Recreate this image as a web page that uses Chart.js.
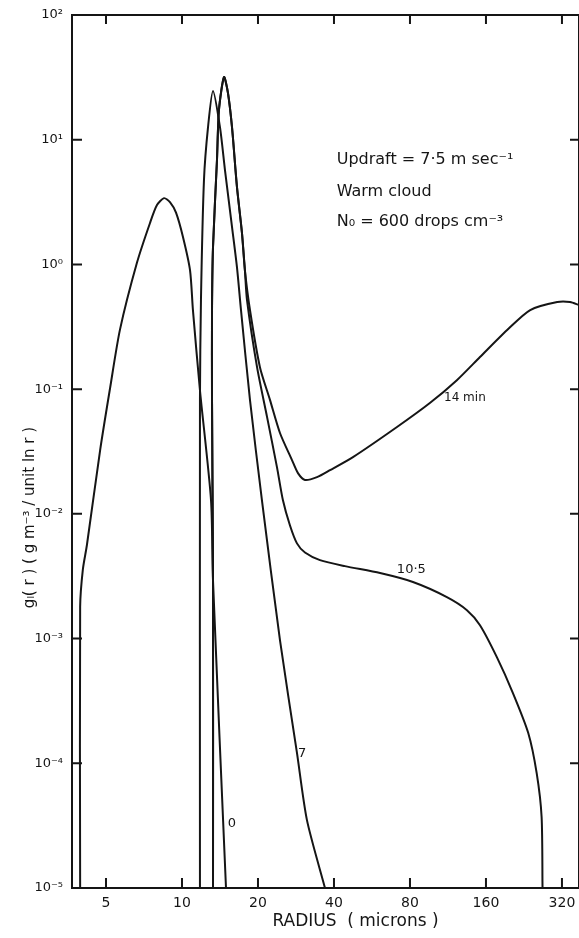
<!DOCTYPE html>
<html>
<head>
<meta charset="utf-8">
<script src="https://cdn.jsdelivr.net/npm/chart.js@4.4.1/dist/chart.umd.min.js"></script>
<style>
  html, body { margin: 0; padding: 0; background: #fff; }
  canvas { display: block; }
</style>
</head>
<body>
<canvas id="dropChart" width="579" height="938"></canvas>
<script>
// tick values on both axes
const xTicks = [5, 10, 20, 40, 80, 160, 320];
const yTicks = [1e-5, 1e-4, 1e-3, 1e-2, 1e-1, 1e0, 1e1, 1e2];
const supers = { '-': '⁻', '0': '⁰', '1': '¹', '2': '²', '3': '³', '4': '⁴', '5': '⁵' };

const curveLabels = ['0', '7', '10·5', '14 min'];

// t = 0
const radius0 = [3.95, 3.95, 4.05, 4.20, 4.74, 5.19, 5.68, 6.63, 7.47, 7.96, 8.49, 8.96, 9.47, 10.09, 10.76, 11.05, 11.78, 13.03, 13.27, 14.94];
const value0 = [1e-5, 1.8e-3, 3.6e-3, 5.6e-3, 0.0325, 0.102, 0.30, 1.03, 2.15, 2.99, 3.40, 3.16, 2.6, 1.66, 0.90, 0.43, 0.098, 0.0129, 2.9e-3, 1e-5];

// t = 7 min
const radius7 = [11.78, 11.78, 11.89, 12.22, 12.68, 13.27, 14.14, 14.80, 15.78, 16.51, 17.13, 18.59, 20.73, 24.44, 28.54, 31.26, 36.85];
const value7 = [1e-5, 0.082, 0.52, 4.75, 12.6, 24.6, 12.6, 5.71, 2.0, 0.95, 0.43, 0.082, 0.0129, 9.7e-4, 1.21e-4, 3.5e-5, 1e-5];

// t = 10.5 min
const radius105 = [13.27, 13.27, 13.15, 13.15, 13.27, 13.76, 14.01, 14.67, 15.21, 15.78, 16.51, 17.28, 17.75, 18.09, 19.83, 21.73, 23.78, 25.1, 26.76, 28.54, 30.70, 35.2, 44.2, 60.9, 82.2, 112, 134.5, 151.5, 176.7, 204.6, 235.3, 254.2, 265.8, 268];
const value105 = [1e-5, 2.9e-3, 0.082, 0.43, 1.38, 6.88, 17.3, 31.8, 23.7, 12.6, 4.18, 1.79, 0.90, 0.52, 0.150, 0.0597, 0.0237, 0.0129, 8.1e-3, 5.8e-3, 4.9e-3, 4.26e-3, 3.81e-3, 3.35e-3, 2.84e-3, 2.15e-3, 1.69e-3, 1.28e-3, 7.1e-4, 3.66e-4, 1.75e-4, 8.3e-5, 3.7e-5, 1e-5];

// t = 14 min
const radius14 = [13.27, 13.27, 13.15, 13.15, 13.27, 13.76, 14.01, 14.67, 15.21, 15.78, 16.51, 17.28, 17.75, 18.59, 20.36, 22.31, 24.44, 27.27, 28.80, 30.70, 34.26, 38.58, 47.57, 71.07, 95.9, 122.7, 151.5, 194.1, 239.5, 306.5, 344.5, 373.8];
const value14 = [1e-5, 2.9e-3, 0.082, 0.43, 1.38, 6.88, 17.3, 31.8, 23.7, 12.6, 4.18, 1.79, 0.90, 0.431, 0.150, 0.082, 0.0445, 0.027, 0.0212, 0.0187, 0.0197, 0.0224, 0.0285, 0.0497, 0.0774, 0.118, 0.181, 0.298, 0.431, 0.499, 0.499, 0.472];

const noteLines = ['Updraft = 7·5 m sec⁻¹', 'Warm cloud', 'N₀ = 600 drops cm⁻³'];

function toPoints(rs, vs) {
  return rs.map((r, i) => ({ x: r, y: vs[i] }));
}

function powerLabel(v) {
  const exp = String(Math.round(Math.log10(v)));
  return '10' + exp.split('').map(c => supers[c]).join('');
}

const ink = '#151515';
const fontFamily = "'DejaVu Sans', sans-serif";

const framePlugin = {
  id: 'frame',
  afterDatasetsDraw(chart) {
    const { ctx, chartArea: a, scales: { x, y } } = chart;
    ctx.save();
    ctx.strokeStyle = ink;
    ctx.lineWidth = 2;
    ctx.strokeRect(a.left, a.top, a.right - a.left, a.bottom - a.top);

    ctx.beginPath();
    xTicks.forEach(v => {
      const px = x.getPixelForValue(v);
      ctx.moveTo(px, a.bottom);
      ctx.lineTo(px, a.bottom - 10);
      ctx.moveTo(px, a.top);
      ctx.lineTo(px, a.top + 9);
    });
    yTicks.forEach(v => {
      const py = y.getPixelForValue(v);
      ctx.moveTo(a.left, py);
      ctx.lineTo(a.left + 10, py);
      ctx.moveTo(a.right, py);
      ctx.lineTo(a.right - 9, py);
    });
    ctx.stroke();

    ctx.fillStyle = ink;
    ctx.textBaseline = 'middle';

    // conditions note
    ctx.font = '16px ' + fontFamily;
    ctx.textAlign = 'left';
    const noteX = x.getPixelForValue(41);
    [6.9, 3.8, 2.19].forEach((v, i) => {
      ctx.fillText(noteLines[i], noteX, y.getPixelForValue(v));
    });

    // curve labels
    ctx.textAlign = 'center';
    ctx.font = '13px ' + fontFamily;
    ctx.fillText(curveLabels[0], x.getPixelForValue(15.78), y.getPixelForValue(3.3e-5));
    ctx.fillText(curveLabels[1], x.getPixelForValue(29.9), y.getPixelForValue(1.2e-4));
    ctx.fillText(curveLabels[2], x.getPixelForValue(81), y.getPixelForValue(3.55e-3));
    ctx.font = '12px ' + fontFamily;
    ctx.fillText(curveLabels[3], x.getPixelForValue(132), y.getPixelForValue(0.085));

    // axis titles
    ctx.font = '17px ' + fontFamily;
    ctx.fillText('RADIUS  ( microns )', (a.left + a.right) / 2 + 30, a.bottom + 34);
    ctx.translate(30, (a.top + a.bottom) / 2 + 66);
    ctx.rotate(-Math.PI / 2);
    ctx.font = '15px ' + fontFamily;
    ctx.fillText('gₗ( r ) ( g m⁻³ / unit ln r )', 0, 0);
    ctx.restore();
  }
};

document.addEventListener('DOMContentLoaded', function () {
  const ctx = document.getElementById('dropChart').getContext('2d');
  const lineStyle = {
    borderColor: ink,
    borderWidth: 2,
    pointRadius: 0,
    tension: 0.25,
    fill: false
  };

  new Chart(ctx, {
    type: 'line',
    data: {
      datasets: [
        { label: curveLabels[0], data: toPoints(radius0, value0), ...lineStyle },
        { label: curveLabels[1], data: toPoints(radius7, value7), ...lineStyle },
        { label: curveLabels[2], data: toPoints(radius105, value105), ...lineStyle },
        { label: curveLabels[3], data: toPoints(radius14, value14), ...lineStyle }
      ]
    },
    options: {
      responsive: false,
      animation: false,
      layout: { padding: { top: 15, right: 0, left: 0, bottom: 0 } },
      plugins: {
        legend: { display: false },
        tooltip: { enabled: false }
      },
      scales: {
        x: {
          type: 'logarithmic',
          min: 3.667,
          max: 373.8,
          border: { display: false },
          grid: { display: false, drawTicks: false },
          ticks: {
            color: ink,
            padding: 7,
            maxRotation: 0,
            autoSkip: false,
            font: { family: fontFamily, size: 14 },
            callback: v => String(v)
          },
          afterBuildTicks: s => { s.ticks = xTicks.map(v => ({ value: v })); },
          afterFit: s => {
            s.height = 50;
            s.paddingLeft = 0;
            s.paddingRight = 0;
          }
        },
        y: {
          type: 'logarithmic',
          min: 1e-5,
          max: 1e2,
          border: { display: false },
          grid: { display: false, drawTicks: false },
          ticks: {
            color: ink,
            padding: 9,
            autoSkip: false,
            font: { family: fontFamily, size: 13 },
            callback: v => powerLabel(v)
          },
          afterBuildTicks: s => { s.ticks = yTicks.map(v => ({ value: v })); },
          afterFit: s => {
            s.width = 72;
            s.paddingTop = 0;
            s.paddingBottom = 0;
          }
        }
      }
    },
    plugins: [framePlugin]
  });
});
</script>
</body>
</html>
